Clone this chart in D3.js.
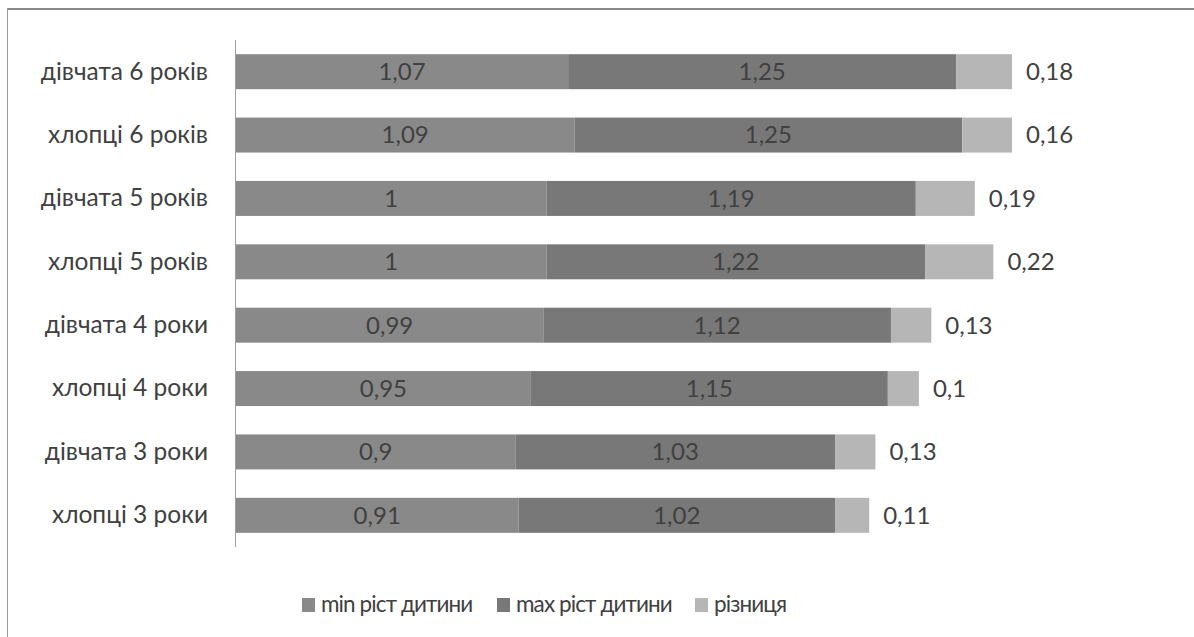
<!DOCTYPE html>
<html><head><meta charset="utf-8">
<script src="https://cdn.jsdelivr.net/npm/d3@7"></script>
<style>body{margin:0;background:#fff;} svg{display:block;}</style>
</head><body>
<svg id="c" width="1194" height="637"></svg>
<script>
const categories = ["дівчата 6 років","хлопці 6 років","дівчата 5 років","хлопці 5 років","дівчата 4 роки","хлопці 4 роки","дівчата 3 роки","хлопці 3 роки"];
const minVals = [1.07,1.09,1,1,0.99,0.95,0.9,0.91];
const maxVals = [1.25,1.25,1.19,1.22,1.12,1.15,1.03,1.02];
const diffVals = [0.18,0.16,0.19,0.22,0.13,0.1,0.13,0.11];
const seriesNames = ["min ріст дитини","max ріст дитини","різниця"];
const colors = ["#898989","#787878","#b6b6b6"];

const svg = d3.select("#c");
const font = "Lato, 'Open Sans', sans-serif";
const textColor = "#404040";

// chart border
svg.append("line").attr("x1",7).attr("x2",1194).attr("y1",9).attr("y2",9).attr("stroke","#8a8a8a").attr("stroke-width",2);
svg.append("line").attr("x1",7.5).attr("x2",7.5).attr("y1",8).attr("y2",637).attr("stroke","#9a9a9a").attr("stroke-width",1);

const x = d3.scaleLinear().domain([0,2.5]).range([236,1012]);
const y = d3.scaleBand().domain(categories).range([40,547]).paddingInner(0.448).paddingOuter(0.224);

const fmt = v => String(v).replace(".",",");

const rows = categories.map((c,i)=>({c, vals:[minVals[i],maxVals[i],diffVals[i]]}));
rows.forEach(r=>{
  let acc=0;
  r.segs = r.vals.map((v,k)=>{const s={k,v,x0:acc,x1:acc+v,c:r.c}; acc+=v; return s;});
});

const g = svg.append("g");
rows.forEach(r=>{
  g.selectAll(null).data(r.segs).enter().append("rect")
    .attr("x",d=>x(d.x0)).attr("width",d=>x(d.x1)-x(d.x0))
    .attr("y",y(r.c)).attr("height",y.bandwidth())
    .attr("fill",d=>colors[d.k]);
  g.selectAll(null).data(r.segs).enter().append("text")
    .attr("x",d=> d.k<2 ? (x(d.x0)+x(d.x1))/2 : x(d.x1)+14)
    .attr("y",y(r.c)+y.bandwidth()/2)
    .attr("dy","0.35em")
    .attr("text-anchor",d=>d.k<2?"middle":"start")
    .attr("font-family",font).attr("font-size",24).attr("fill",textColor)
    .text(d=>fmt(d.v));
});

// y axis
const yAxis = d3.axisLeft(y).tickSize(0).tickPadding(27);
const ya = svg.append("g").attr("transform","translate(235,0)").call(yAxis);
ya.select(".domain").attr("stroke","#a0a0a0").attr("d","M0.5,40V547");
ya.selectAll("text").attr("font-family",font).attr("font-size",24.5).attr("fill",textColor);

// legend
const legX = [302,497,695];
const lg = svg.append("g");
seriesNames.forEach((n,i)=>{
  lg.append("rect").attr("x",legX[i]).attr("y",598).attr("width",13).attr("height",14).attr("fill",colors[i]);
  lg.append("text").attr("x",legX[i]+19).attr("y",612).attr("font-family",font).attr("font-size",22.5).attr("letter-spacing","-0.9px").attr("fill",textColor).text(n);
});
</script>
</body></html>
